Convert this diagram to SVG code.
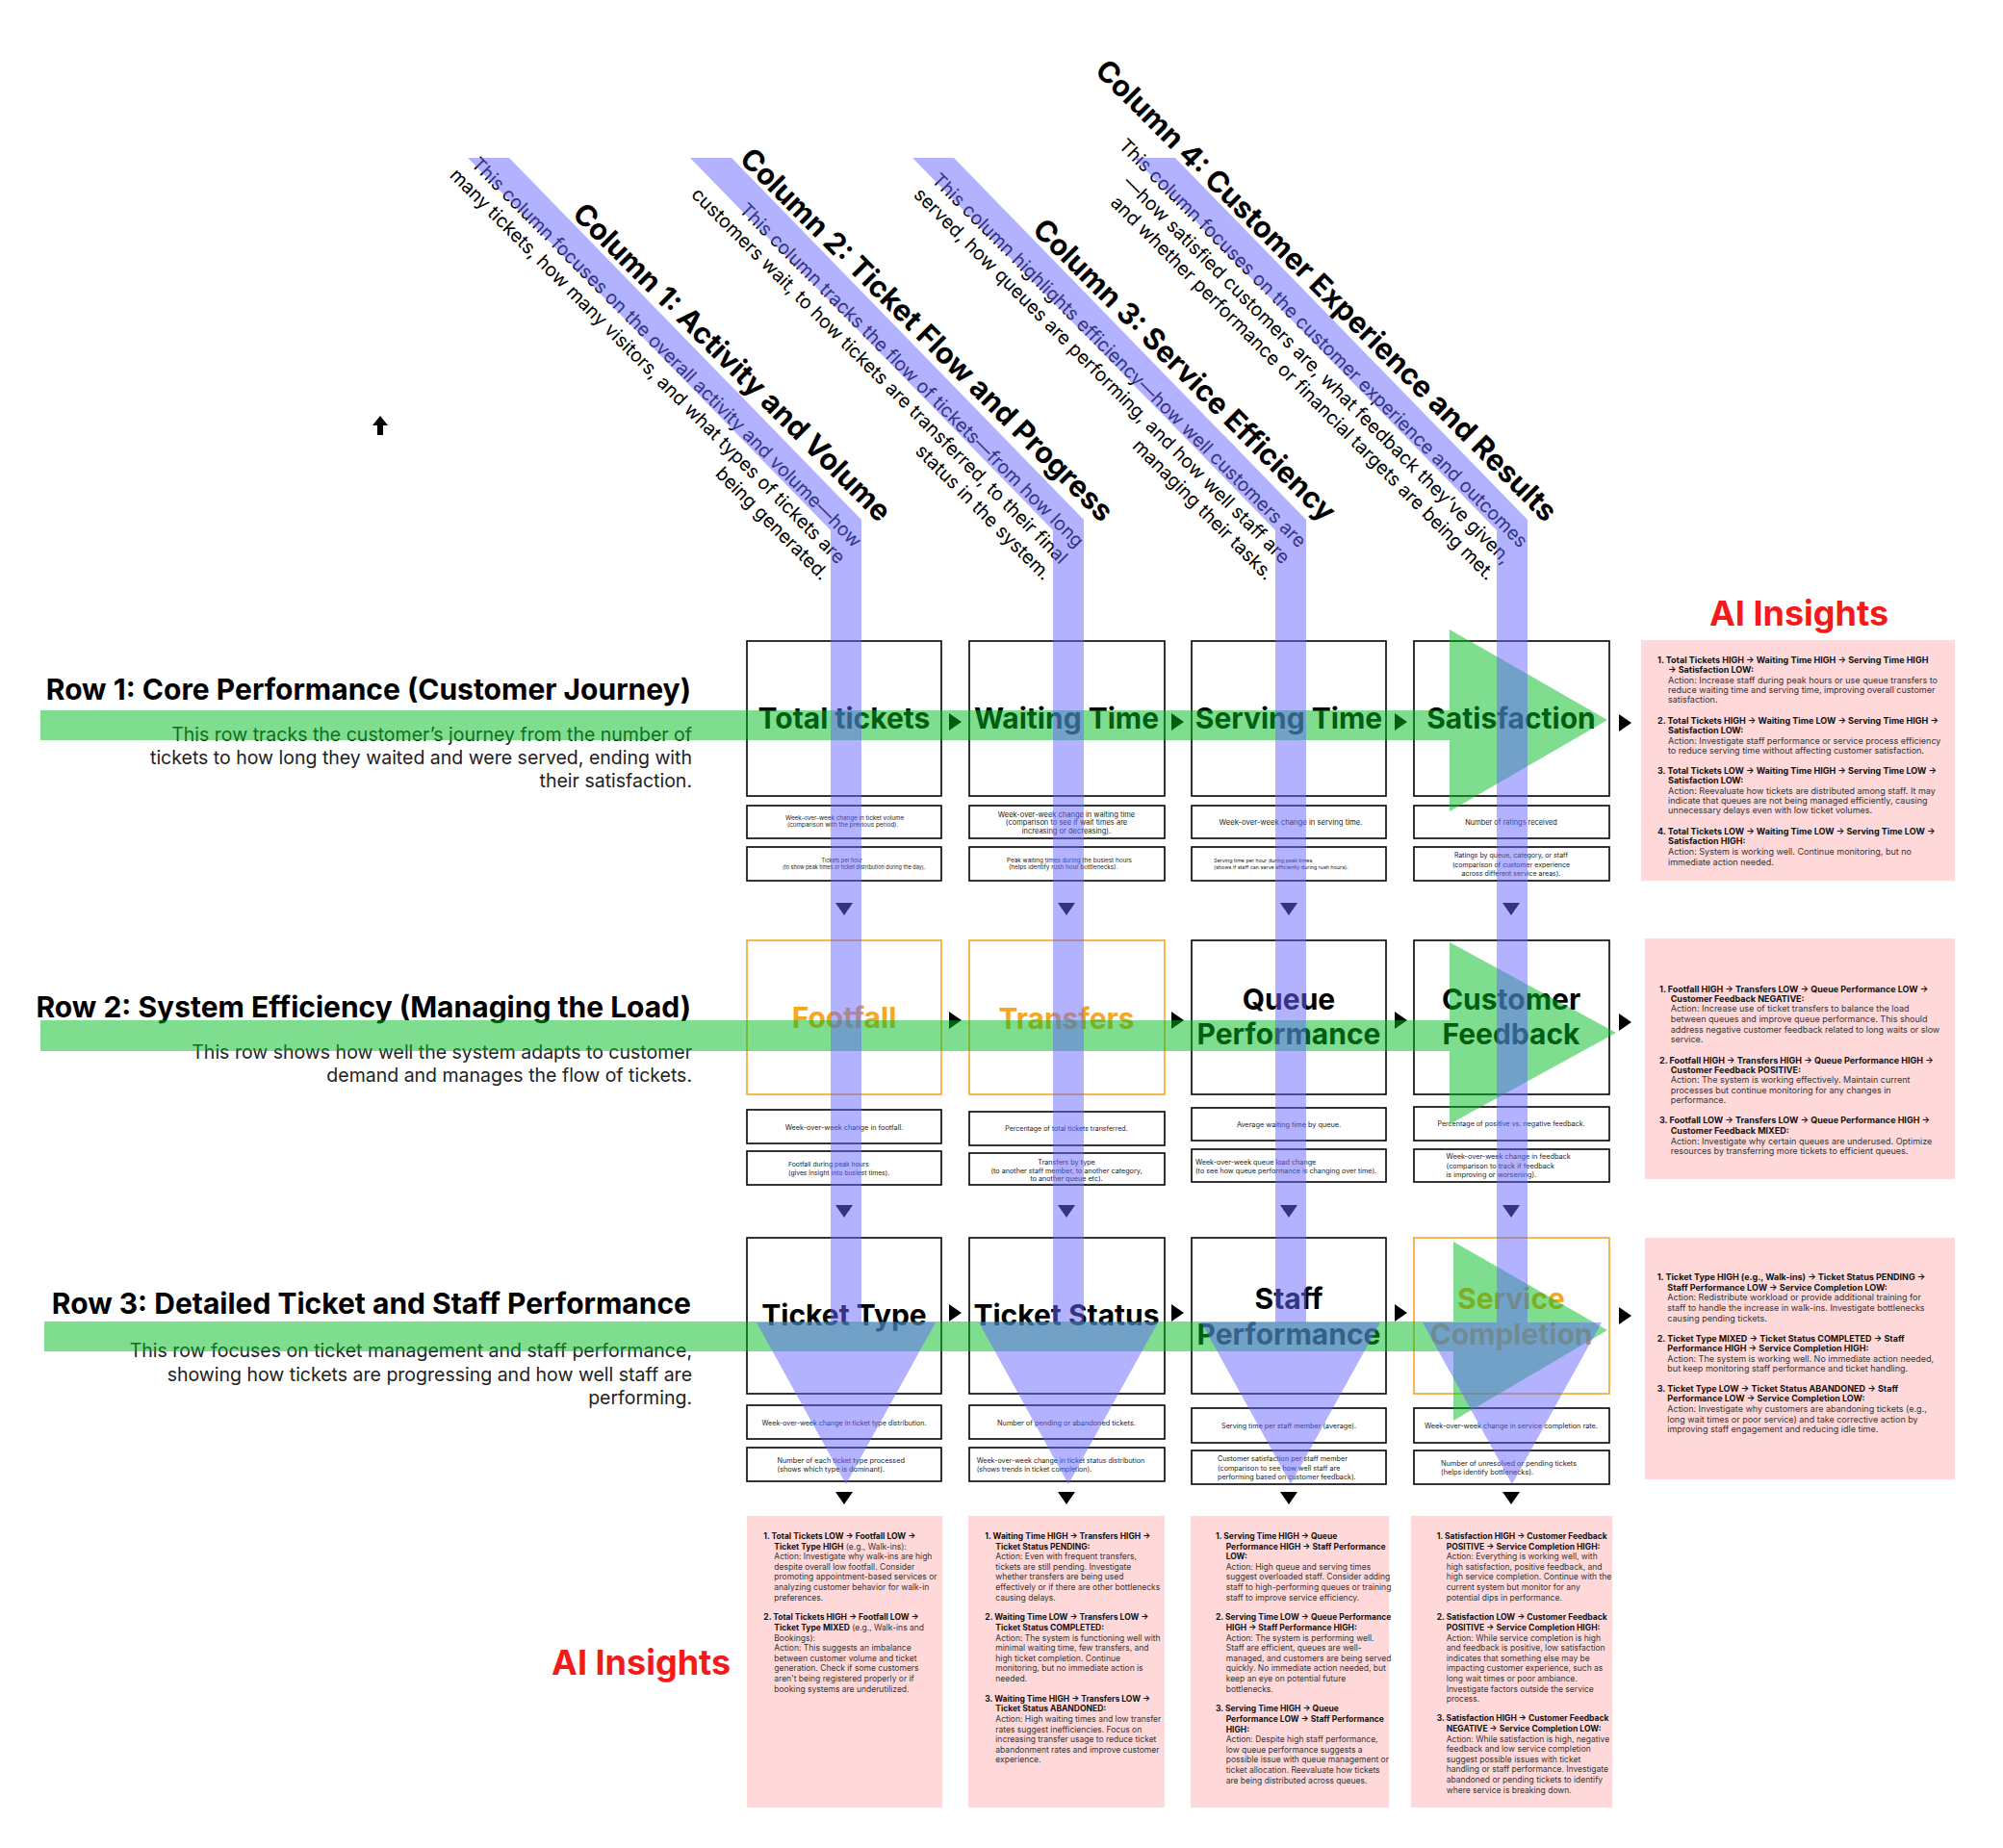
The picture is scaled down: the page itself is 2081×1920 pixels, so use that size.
<svg xmlns="http://www.w3.org/2000/svg" width="2081" height="1920" viewBox="0 0 2081 1920">
<style>
text{font-family:Inter,"Noto Sans","Liberation Sans",sans-serif;}
.box{fill:#fff;stroke:#000;stroke-width:1.6;}
.obox{fill:#fff;stroke:#f5a623;stroke-width:1.6;}
.sub{fill:#fff;stroke:#000;stroke-width:1.6;}
.big{font-size:30px;font-weight:700;fill:#000;text-anchor:middle;}
.obig{font-size:30px;font-weight:700;fill:#f5a623;text-anchor:middle;}
.st{fill:#222;}
.mid{text-anchor:middle;}
.rowt{font-size:30px;font-weight:700;fill:#000;text-anchor:end;}
.rowd{font-size:19.5px;fill:#222;text-anchor:end;}
.colt{font-size:30.5px;font-weight:700;fill:#000;text-anchor:end;}
.cold{font-size:19.5px;fill:#000;text-anchor:end;}
.panel{fill:#ffd9d9;}
.pt{font-size:8.5px;fill:#333;}
.rp{font-size:9px;}
.b{font-weight:700;fill:#111;}
.ai{font-size:36px;font-weight:700;fill:#f21b1b;}
.blue{fill:#6666ff;fill-opacity:0.5;}
.green{fill:#00bb22;fill-opacity:0.5;}
.tri{fill:#000;}
</style>

<g id="column-headers">
<g id="col1-header" transform="translate(887,570) rotate(45)">
<text class="colt" x="0" y="-37">Column 1: Activity and Volume</text>
<text class="cold"><tspan x="0" y="0">This column focuses on the overall activity and volume—how</tspan><tspan x="0" y="24">many tickets, how many visitors, and what types of tickets are</tspan><tspan x="0" y="48">being generated.</tspan></text>
</g>
<g id="col2-header" transform="translate(1118,570) rotate(45)">
<text class="colt" x="0" y="-37">Column 2: Ticket Flow and Progress</text>
<text class="cold"><tspan x="0" y="0">This column tracks the flow of tickets—from how long</tspan><tspan x="0" y="24">customers wait, to how tickets are transferred, to their final</tspan><tspan x="0" y="48">status in the system.</tspan></text>
</g>
<g id="col3-header" transform="translate(1349,570) rotate(45)">
<text class="colt" x="0" y="-37">Column 3: Service Efficiency</text>
<text class="cold"><tspan x="0" y="0">This column highlights efficiency—how well customers are</tspan><tspan x="0" y="24">served, how queues are performing, and how well staff are</tspan><tspan x="0" y="48">managing their tasks.</tspan></text>
</g>
<g id="col4-header" transform="translate(1579,570) rotate(45)">
<text class="colt" x="0" y="-37">Column 4: Customer Experience and Results</text>
<text class="cold"><tspan x="0" y="0">This column focuses on the customer experience and outcomes</tspan><tspan x="0" y="24">—how satisfied customers are, what feedback they’ve given,</tspan><tspan x="0" y="48">and whether performance or financial targets are being met.</tspan></text>
</g>
</g>

<g id="row-headers">
<g id="row1-header">
<text class="rowt" x="718" y="727">Row 1: Core Performance (Customer Journey)</text>
<text class="rowd"><tspan x="719" y="770">This row tracks the customer’s journey from the number of</tspan><tspan x="719" y="794">tickets to how long they waited and were served, ending with</tspan><tspan x="719" y="818">their satisfaction.</tspan></text>
</g>
<g id="row2-header">
<text class="rowt" x="718" y="1057">Row 2: System Efficiency (Managing the Load)</text>
<text class="rowd"><tspan x="719" y="1100">This row shows how well the system adapts to customer</tspan><tspan x="719" y="1124">demand and manages the flow of tickets.</tspan></text>
</g>
<g id="row3-header">
<text class="rowt" x="718" y="1365">Row 3: Detailed Ticket and Staff Performance</text>
<text class="rowd"><tspan x="719" y="1410">This row focuses on ticket management and staff performance,</tspan><tspan x="719" y="1435">showing how tickets are progressing and how well staff are</tspan><tspan x="719" y="1459">performing.</tspan></text>
</g>
</g>

<g id="up-arrow"><path d="M395,432 L403,442 L398,442 L398,452 L392,452 L392,442 L387,442 Z" fill="#000"/></g>

<!-- Row 1 -->
<g id="total-tickets"><rect class="box" x="776" y="666" width="202" height="161"/><text class="big" x="877" y="757">Total tickets</text></g>
<g id="waiting-time"><rect class="box" x="1007" y="666" width="203" height="161"/><text class="big" x="1108" y="757">Waiting Time</text></g>
<g id="serving-time"><rect class="box" x="1238" y="666" width="202" height="161"/><text class="big" x="1339" y="757">Serving Time</text></g>
<g id="satisfaction"><rect class="box" x="1469" y="666" width="203" height="161"/><text class="big" x="1570" y="757">Satisfaction</text></g>

<g id="r1-subs">
<g id="r1c1s1"><rect class="sub" x="776" y="837" width="202" height="34"/><text class="st" font-size="6.3"><tspan x="816" y="852">Week-over-week change in ticket volume</tspan><tspan x="818" y="859.3">(comparison with the previous period).</tspan></text></g>
<g id="r1c2s1"><rect class="sub" x="1007" y="837" width="203" height="34"/><text class="st mid" font-size="7.5"><tspan x="1108" y="848.5">Week-over-week change in waiting time</tspan><tspan x="1108" y="857.3">(comparison to see if wait times are</tspan><tspan x="1108" y="866.3">increasing or decreasing).</tspan></text></g>
<g id="r1c3s1"><rect class="sub" x="1238" y="837" width="202" height="34"/><text class="st mid" font-size="7.7" x="1341" y="856.7">Week-over-week change in serving time.</text></g>
<g id="r1c4s1"><rect class="sub" x="1469" y="837" width="203" height="34"/><text class="st mid" font-size="7.4" x="1570" y="856.7">Number of ratings received</text></g>
<g id="r1c1s2"><rect class="sub" x="776" y="880" width="202" height="35"/><text class="st" font-size="5.5"><tspan x="853.5" y="896">Tickets per hour</tspan><tspan x="813" y="902.7">(to show peak times or ticket distribution during the day).</tspan></text></g>
<g id="r1c2s2"><rect class="sub" x="1007" y="880" width="203" height="35"/><text class="st" font-size="6.3"><tspan x="1046" y="896">Peak waiting times during the busiest hours</tspan><tspan x="1048" y="903.3">(helps identify rush hour bottlenecks).</tspan></text></g>
<g id="r1c3s2"><rect class="sub" x="1238" y="880" width="202" height="35"/><text class="st" font-size="5.4"><tspan x="1261" y="896">Serving time per hour during peak times</tspan><tspan x="1261" y="903.3">(shows if staff can serve efficiently during rush hours).</tspan></text></g>
<g id="r1c4s2"><rect class="sub" x="1469" y="880" width="203" height="35"/><text class="st mid" font-size="7"><tspan x="1570" y="891.3">Ratings by queue, category, or staff</tspan><tspan x="1570" y="900.5">(comparison of customer experience</tspan><tspan x="1570" y="909.5">across different service areas).</tspan></text></g>
</g>

<!-- Row 2 -->
<g id="footfall"><rect class="obox" x="776" y="977" width="202" height="160"/><text class="obig" x="877" y="1068">Footfall</text></g>
<g id="transfers"><rect class="obox" x="1007" y="977" width="203" height="160"/><text class="obig" x="1108" y="1069">Transfers</text></g>
<g id="queue-performance"><rect class="box" x="1238" y="977" width="202" height="160"/><text class="big"><tspan x="1339" y="1049">Queue</tspan><tspan x="1339" y="1085">Performance</tspan></text></g>
<g id="customer-feedback"><rect class="box" x="1469" y="977" width="203" height="160"/><text class="big"><tspan x="1570" y="1049">Customer</tspan><tspan x="1570" y="1085">Feedback</tspan></text></g>

<g id="r2-subs">
<g id="r2c1s1"><rect class="sub" x="776" y="1153" width="202" height="35"/><text class="st mid" font-size="7.3" x="877" y="1173.8">Week-over-week change in footfall.</text></g>
<g id="r2c1s2"><rect class="sub" x="776" y="1196" width="202" height="35"/><text class="st" font-size="6.8"><tspan x="819" y="1212">Footfall during peak hours</tspan><tspan x="819" y="1221">(gives insight into busiest times).</tspan></text></g>
<g id="r2c2s1"><rect class="sub" x="1007" y="1155" width="203" height="35"/><text class="st mid" font-size="7" x="1108" y="1174.5">Percentage of total tickets transferred.</text></g>
<g id="r2c2s2"><rect class="sub" x="1007" y="1198" width="203" height="33"/><text class="st mid" font-size="7.2"><tspan x="1108" y="1209.6">Transfers by type</tspan><tspan x="1108" y="1218.6">(to another staff member, to another category,</tspan><tspan x="1108" y="1227">to another queue etc).</tspan></text></g>
<g id="r2c3s1"><rect class="sub" x="1238" y="1151" width="202" height="34"/><text class="st mid" font-size="7.3" x="1339" y="1170.5">Average waiting time by queue.</text></g>
<g id="r2c3s2"><rect class="sub" x="1238" y="1194" width="202" height="34"/><text class="st" font-size="7.2"><tspan x="1242" y="1209.6">Week-over-week queue load change</tspan><tspan x="1242" y="1218.6">(to see how queue performance is changing over time).</tspan></text></g>
<g id="r2c4s1"><rect class="sub" x="1469" y="1150" width="203" height="35"/><text class="st mid" font-size="7.1" x="1570" y="1170.3">Percentage of positive vs. negative feedback.</text></g>
<g id="r2c4s2"><rect class="sub" x="1469" y="1194" width="203" height="34"/><text class="st" font-size="7.3"><tspan x="1502.6" y="1204.3">Week-over-week change in feedback</tspan><tspan x="1502.6" y="1213.6">(comparison to track if feedback</tspan><tspan x="1502.6" y="1223">is improving or worsening).</tspan></text></g>
</g>

<!-- Row 3 -->
<g id="ticket-type"><rect class="box" x="776" y="1286" width="202" height="162"/><text class="big" x="877" y="1377">Ticket Type</text></g>
<g id="ticket-status"><rect class="box" x="1007" y="1286" width="203" height="162"/><text class="big" x="1108" y="1377">Ticket Status</text></g>
<g id="staff-performance"><rect class="box" x="1238" y="1286" width="202" height="162"/><text class="big"><tspan x="1339" y="1360">Staff</tspan><tspan x="1339" y="1397">Performance</tspan></text></g>
<g id="service-completion"><rect class="obox" x="1469" y="1286" width="203" height="162"/><text class="obig"><tspan x="1570" y="1360">Service</tspan><tspan x="1570" y="1397">Completion</tspan></text></g>

<g id="r3-subs">
<g id="r3c1s1"><rect class="sub" x="776" y="1460" width="202" height="35"/><text class="st mid" font-size="7.1" x="877" y="1481">Week-over-week change in ticket type distribution.</text></g>
<g id="r3c1s2"><rect class="sub" x="776" y="1504" width="202" height="35"/><text class="st" font-size="7.3"><tspan x="807.5" y="1520.3">Number of each ticket type processed</tspan><tspan x="807.5" y="1529.3">(shows which type is dominant).</tspan></text></g>
<g id="r3c2s1"><rect class="sub" x="1007" y="1460" width="203" height="35"/><text class="st mid" font-size="7.3" x="1108" y="1481">Number of pending or abandoned tickets.</text></g>
<g id="r3c2s2"><rect class="sub" x="1007" y="1504" width="203" height="35"/><text class="st" font-size="7.1"><tspan x="1014.7" y="1520.3">Week-over-week change in ticket status distribution</tspan><tspan x="1014.7" y="1529.3">(shows trends in ticket completion).</tspan></text></g>
<g id="r3c3s1"><rect class="sub" x="1238" y="1463" width="202" height="36"/><text class="st mid" font-size="7.2" x="1339" y="1484.3">Serving time per staff member (average).</text></g>
<g id="r3c3s2"><rect class="sub" x="1238" y="1507" width="202" height="35"/><text class="st" font-size="7.2"><tspan x="1265" y="1518.3">Customer satisfaction per staff member</tspan><tspan x="1265" y="1527.6">(comparison to see how well staff are</tspan><tspan x="1265" y="1536.6">performing based on customer feedback).</tspan></text></g>
<g id="r3c4s1"><rect class="sub" x="1469" y="1463" width="203" height="36"/><text class="st mid" font-size="7.3" x="1570" y="1484.3">Week-over-week change in service completion rate.</text></g>
<g id="r3c4s2"><rect class="sub" x="1469" y="1507" width="203" height="35"/><text class="st" font-size="7.3"><tspan x="1497" y="1522.6">Number of unresolved or pending tickets</tspan><tspan x="1497" y="1532">(helps identify bottlenecks).</tspan></text></g>
</g>

<!-- AI Insights right panels -->
<g id="ai-title-right"><text class="ai" x="1869" y="650" text-anchor="middle">AI Insights</text></g>
<g id="ai-row1">
<rect class="panel" x="1705" y="665" width="326" height="250"/>
<text class="pt rp"><tspan class="b" x="1722" y="688.7">1. Total Tickets HIGH → Waiting Time HIGH → Serving Time HIGH</tspan><tspan class="b" x="1733" y="699.3">→ Satisfaction LOW:</tspan><tspan x="1733" y="709.7">Action: Increase staff during peak hours or use queue transfers to</tspan><tspan x="1733" y="720">reduce waiting time and serving time, improving overall customer</tspan><tspan x="1733" y="730.3">satisfaction.</tspan></text>
<text class="pt rp"><tspan class="b" x="1722" y="751.7">2. Total Tickets HIGH → Waiting Time LOW → Serving Time HIGH →</tspan><tspan class="b" x="1733" y="762">Satisfaction LOW:</tspan><tspan x="1733" y="772.7">Action: Investigate staff performance or service process efficiency</tspan><tspan x="1733" y="783">to reduce serving time without affecting customer satisfaction.</tspan></text>
<text class="pt rp"><tspan class="b" x="1722" y="803.7">3. Total Tickets LOW → Waiting Time HIGH → Serving Time LOW →</tspan><tspan class="b" x="1733" y="814">Satisfaction LOW:</tspan><tspan x="1733" y="824.7">Action: Reevaluate how tickets are distributed among staff. It may</tspan><tspan x="1733" y="835">indicate that queues are not being managed efficiently, causing</tspan><tspan x="1733" y="845.3">unnecessary delays even with low ticket volumes.</tspan></text>
<text class="pt rp"><tspan class="b" x="1722" y="867">4. Total Tickets LOW → Waiting Time LOW → Serving Time LOW →</tspan><tspan class="b" x="1733" y="877.3">Satisfaction HIGH:</tspan><tspan x="1733" y="888.3">Action: System is working well. Continue monitoring, but no</tspan><tspan x="1733" y="898.7">immediate action needed.</tspan></text>
</g>
<g id="ai-row2">
<rect class="panel" x="1709" y="975" width="322" height="250"/>
<text class="pt rp"><tspan class="b" x="1724" y="1030.7">1. Footfall HIGH → Transfers LOW → Queue Performance LOW →</tspan><tspan class="b" x="1735.7" y="1041.3">Customer Feedback NEGATIVE:</tspan><tspan x="1735.7" y="1051.3">Action: Increase use of ticket transfers to balance the load</tspan><tspan x="1735.7" y="1062">between queues and improve queue performance. This should</tspan><tspan x="1735.7" y="1072.7">address negative customer feedback related to long waits or slow</tspan><tspan x="1735.7" y="1083.3">service.</tspan></text>
<text class="pt rp"><tspan class="b" x="1724" y="1104.7">2. Footfall HIGH → Transfers HIGH → Queue Performance HIGH →</tspan><tspan class="b" x="1735.7" y="1114.7">Customer Feedback POSITIVE:</tspan><tspan x="1735.7" y="1125.3">Action: The system is working effectively. Maintain current</tspan><tspan x="1735.7" y="1136">processes but continue monitoring for any changes in</tspan><tspan x="1735.7" y="1146.3">performance.</tspan></text>
<text class="pt rp"><tspan class="b" x="1724" y="1167.3">3. Footfall LOW → Transfers LOW → Queue Performance HIGH →</tspan><tspan class="b" x="1735.7" y="1178">Customer Feedback MIXED:</tspan><tspan x="1735.7" y="1188.7">Action: Investigate why certain queues are underused. Optimize</tspan><tspan x="1735.7" y="1198.7">resources by transferring more tickets to efficient queues.</tspan></text>
</g>
<g id="ai-row3">
<rect class="panel" x="1709" y="1286" width="322" height="251"/>
<text class="pt rp"><tspan class="b" x="1721.7" y="1330.3">1. Ticket Type HIGH (e.g., Walk-ins) → Ticket Status PENDING →</tspan><tspan class="b" x="1732.3" y="1341">Staff Performance LOW → Service Completion LOW:</tspan><tspan x="1732.3" y="1351.3">Action: Redistribute workload or provide additional training for</tspan><tspan x="1732.3" y="1362">staff to handle the increase in walk-ins. Investigate bottlenecks</tspan><tspan x="1732.3" y="1372.7">causing pending tickets.</tspan></text>
<text class="pt rp"><tspan class="b" x="1721.7" y="1393.7">2. Ticket Type MIXED → Ticket Status COMPLETED → Staff</tspan><tspan class="b" x="1732.3" y="1404.3">Performance HIGH → Service Completion HIGH:</tspan><tspan x="1732.3" y="1414.7">Action: The system is working well. No immediate action needed,</tspan><tspan x="1732.3" y="1425">but keep monitoring staff performance and ticket handling.</tspan></text>
<text class="pt rp"><tspan class="b" x="1721.7" y="1445.7">3. Ticket Type LOW → Ticket Status ABANDONED → Staff</tspan><tspan class="b" x="1732.3" y="1456.3">Performance LOW → Service Completion LOW:</tspan><tspan x="1732.3" y="1467">Action: Investigate why customers are abandoning tickets (e.g.,</tspan><tspan x="1732.3" y="1477.7">long wait times or poor service) and take corrective action by</tspan><tspan x="1732.3" y="1488.3">improving staff engagement and reducing idle time.</tspan></text>
</g>

<!-- AI Insights bottom panels -->
<g id="ai-title-bottom"><text class="ai" x="573" y="1740">AI Insights</text></g>
<g id="ai-col1">
<rect class="panel" x="776" y="1575" width="203" height="303"/>
<text class="pt"><tspan class="b" x="793.3" y="1599">1. Total Tickets LOW → Footfall LOW →</tspan><tspan class="b" x="804.3" y="1609.6">Ticket Type HIGH</tspan><tspan> (e.g., Walk-ins):</tspan><tspan x="804.3" y="1620.2">Action: Investigate why walk-ins are high</tspan><tspan x="804.3" y="1630.8">despite overall low footfall. Consider</tspan><tspan x="804.3" y="1641.4">promoting appointment-based services or</tspan><tspan x="804.3" y="1652">analyzing customer behavior for walk-in</tspan><tspan x="804.3" y="1662.6">preferences.</tspan></text>
<text class="pt"><tspan class="b" x="793.3" y="1683.3">2. Total Tickets HIGH → Footfall LOW →</tspan><tspan class="b" x="804.3" y="1693.9">Ticket Type MIXED</tspan><tspan> (e.g., Walk-ins and</tspan><tspan x="804.3" y="1704.5">Bookings):</tspan><tspan x="804.3" y="1715.1">Action: This suggests an imbalance</tspan><tspan x="804.3" y="1725.7">between customer volume and ticket</tspan><tspan x="804.3" y="1736.3">generation. Check if some customers</tspan><tspan x="804.3" y="1746.9">aren't being registered properly or if</tspan><tspan x="804.3" y="1757.5">booking systems are underutilized.</tspan></text>
</g>
<g id="ai-col2">
<rect class="panel" x="1006" y="1575" width="204" height="303"/>
<text class="pt"><tspan class="b" x="1023.3" y="1599">1. Waiting Time HIGH → Transfers HIGH →</tspan><tspan class="b" x="1034.3" y="1609.6">Ticket Status PENDING:</tspan><tspan x="1034.3" y="1620.2">Action: Even with frequent transfers,</tspan><tspan x="1034.3" y="1630.8">tickets are still pending. Investigate</tspan><tspan x="1034.3" y="1641.4">whether transfers are being used</tspan><tspan x="1034.3" y="1652">effectively or if there are other bottlenecks</tspan><tspan x="1034.3" y="1662.6">causing delays.</tspan></text>
<text class="pt"><tspan class="b" x="1023.3" y="1683.3">2. Waiting Time LOW → Transfers LOW →</tspan><tspan class="b" x="1034.3" y="1693.9">Ticket Status COMPLETED:</tspan><tspan x="1034.3" y="1704.5">Action: The system is functioning well with</tspan><tspan x="1034.3" y="1715.1">minimal waiting time, few transfers, and</tspan><tspan x="1034.3" y="1725.7">high ticket completion. Continue</tspan><tspan x="1034.3" y="1736.3">monitoring, but no immediate action is</tspan><tspan x="1034.3" y="1746.9">needed.</tspan></text>
<text class="pt"><tspan class="b" x="1023.3" y="1767.7">3. Waiting Time HIGH → Transfers LOW →</tspan><tspan class="b" x="1034.3" y="1778.3">Ticket Status ABANDONED:</tspan><tspan x="1034.3" y="1788.9">Action: High waiting times and low transfer</tspan><tspan x="1034.3" y="1799.5">rates suggest inefficiencies. Focus on</tspan><tspan x="1034.3" y="1810.1">increasing transfer usage to reduce ticket</tspan><tspan x="1034.3" y="1820.7">abandonment rates and improve customer</tspan><tspan x="1034.3" y="1831.3">experience.</tspan></text>
</g>
<g id="ai-col3">
<rect class="panel" x="1237" y="1575" width="206" height="303"/>
<text class="pt"><tspan class="b" x="1263" y="1599">1. Serving Time HIGH → Queue</tspan><tspan class="b" x="1273.7" y="1609.6">Performance HIGH → Staff Performance</tspan><tspan class="b" x="1273.7" y="1620.2">LOW:</tspan><tspan x="1273.7" y="1630.8">Action: High queue and serving times</tspan><tspan x="1273.7" y="1641.4">suggest overloaded staff. Consider adding</tspan><tspan x="1273.7" y="1652">staff to high-performing queues or training</tspan><tspan x="1273.7" y="1662.6">staff to improve service efficiency.</tspan></text>
<text class="pt"><tspan class="b" x="1263" y="1683.3">2. Serving Time LOW → Queue Performance</tspan><tspan class="b" x="1273.7" y="1693.9">HIGH → Staff Performance HIGH:</tspan><tspan x="1273.7" y="1704.5">Action: The system is performing well.</tspan><tspan x="1273.7" y="1715.1">Staff are efficient, queues are well-</tspan><tspan x="1273.7" y="1725.7">managed, and customers are being served</tspan><tspan x="1273.7" y="1736.3">quickly. No immediate action needed, but</tspan><tspan x="1273.7" y="1746.9">keep an eye on potential future</tspan><tspan x="1273.7" y="1757.5">bottlenecks.</tspan></text>
<text class="pt"><tspan class="b" x="1263" y="1778.3">3. Serving Time HIGH → Queue</tspan><tspan class="b" x="1273.7" y="1788.9">Performance LOW → Staff Performance</tspan><tspan class="b" x="1273.7" y="1799.5">HIGH:</tspan><tspan x="1273.7" y="1810.1">Action: Despite high staff performance,</tspan><tspan x="1273.7" y="1820.7">low queue performance suggests a</tspan><tspan x="1273.7" y="1831.3">possible issue with queue management or</tspan><tspan x="1273.7" y="1841.9">ticket allocation. Reevaluate how tickets</tspan><tspan x="1273.7" y="1852.5">are being distributed across queues.</tspan></text>
</g>
<g id="ai-col4">
<rect class="panel" x="1466" y="1575" width="209" height="303"/>
<text class="pt"><tspan class="b" x="1492.7" y="1599">1. Satisfaction HIGH → Customer Feedback</tspan><tspan class="b" x="1502.7" y="1609.6">POSITIVE → Service Completion HIGH:</tspan><tspan x="1502.7" y="1620.2">Action: Everything is working well, with</tspan><tspan x="1502.7" y="1630.8">high satisfaction, positive feedback, and</tspan><tspan x="1502.7" y="1641.4">high service completion. Continue with the</tspan><tspan x="1502.7" y="1652">current system but monitor for any</tspan><tspan x="1502.7" y="1662.6">potential dips in performance.</tspan></text>
<text class="pt"><tspan class="b" x="1492.7" y="1683.3">2. Satisfaction LOW → Customer Feedback</tspan><tspan class="b" x="1502.7" y="1693.9">POSITIVE → Service Completion HIGH:</tspan><tspan x="1502.7" y="1704.5">Action: While service completion is high</tspan><tspan x="1502.7" y="1715.1">and feedback is positive, low satisfaction</tspan><tspan x="1502.7" y="1725.7">indicates that something else may be</tspan><tspan x="1502.7" y="1736.3">impacting customer experience, such as</tspan><tspan x="1502.7" y="1746.9">long wait times or poor ambiance.</tspan><tspan x="1502.7" y="1757.5">Investigate factors outside the service</tspan><tspan x="1502.7" y="1768.1">process.</tspan></text>
<text class="pt"><tspan class="b" x="1492.7" y="1788.3">3. Satisfaction HIGH → Customer Feedback</tspan><tspan class="b" x="1502.7" y="1798.9">NEGATIVE → Service Completion LOW:</tspan><tspan x="1502.7" y="1809.5">Action: While satisfaction is high, negative</tspan><tspan x="1502.7" y="1820.1">feedback and low service completion</tspan><tspan x="1502.7" y="1830.7">suggest possible issues with ticket</tspan><tspan x="1502.7" y="1841.3">handling or staff performance. Investigate</tspan><tspan x="1502.7" y="1851.9">abandoned or pending tickets to identify</tspan><tspan x="1502.7" y="1862.5">where service is breaking down.</tspan></text>
</g>

<g id="connectors">
<g id="flow-markers">
<polygon class="tri" points="986,741 999,750 986,759"/>
<polygon class="tri" points="1217,741 1230,750 1217,759"/>
<polygon class="tri" points="1449,741 1462,750 1449,759"/>
<polygon class="tri" points="1682,742 1695,751 1682,760"/>
<polygon class="tri" points="986,1051 999,1060 986,1069"/>
<polygon class="tri" points="1217,1051 1230,1060 1217,1069"/>
<polygon class="tri" points="1449,1051 1462,1060 1449,1069"/>
<polygon class="tri" points="1682,1053 1695,1062 1682,1071"/>
<polygon class="tri" points="986,1355 999,1364 986,1373"/>
<polygon class="tri" points="1217,1355 1230,1364 1217,1373"/>
<polygon class="tri" points="1449,1355 1462,1364 1449,1373"/>
<polygon class="tri" points="1682,1358 1695,1367 1682,1376"/>
<polygon class="tri" points="868,938 886,938 877,951"/>
<polygon class="tri" points="1099,938 1117,938 1108,951"/>
<polygon class="tri" points="1330,938 1348,938 1339,951"/>
<polygon class="tri" points="1561,938 1579,938 1570,951"/>
<polygon class="tri" points="868,1252 886,1252 877,1265"/>
<polygon class="tri" points="1099,1252 1117,1252 1108,1265"/>
<polygon class="tri" points="1330,1252 1348,1252 1339,1265"/>
<polygon class="tri" points="1561,1252 1579,1252 1570,1265"/>
<polygon class="tri" points="868,1550 886,1550 877,1563"/>
<polygon class="tri" points="1099,1550 1117,1550 1108,1563"/>
<polygon class="tri" points="1330,1550 1348,1550 1339,1563"/>
<polygon class="tri" points="1561,1550 1579,1550 1570,1563"/>
</g>
<g id="row-bands">
<polygon class="green" points="42,738 1506,738 1506,654 1670,748 1506,843 1506,769 42,769"/>
<polygon class="green" points="42,1060 1506,1060 1506,979 1679,1073 1506,1168 1506,1092 42,1092"/>
<polygon class="green" points="46,1373 1510,1373 1510,1290 1670,1382 1510,1476 1510,1404 46,1404"/>
</g>
<g id="column-bands">
<polygon class="blue" points="486,164 529,164 895,540 895,1374 972,1374 879,1542 786,1374 863,1374 863,551"/>
<polygon class="blue" points="717,164 760,164 1126,540 1126,1374 1203,1374 1110,1542 1017,1374 1094,1374 1094,551"/>
<polygon class="blue" points="948,164 991,164 1357,540 1357,1374 1434,1374 1341,1542 1248,1374 1325,1374 1325,551"/>
<polygon class="blue" points="1178,164 1221,164 1587,540 1587,1374 1664,1374 1571,1542 1478,1374 1555,1374 1555,551"/>
</g>
</g>
</svg>
